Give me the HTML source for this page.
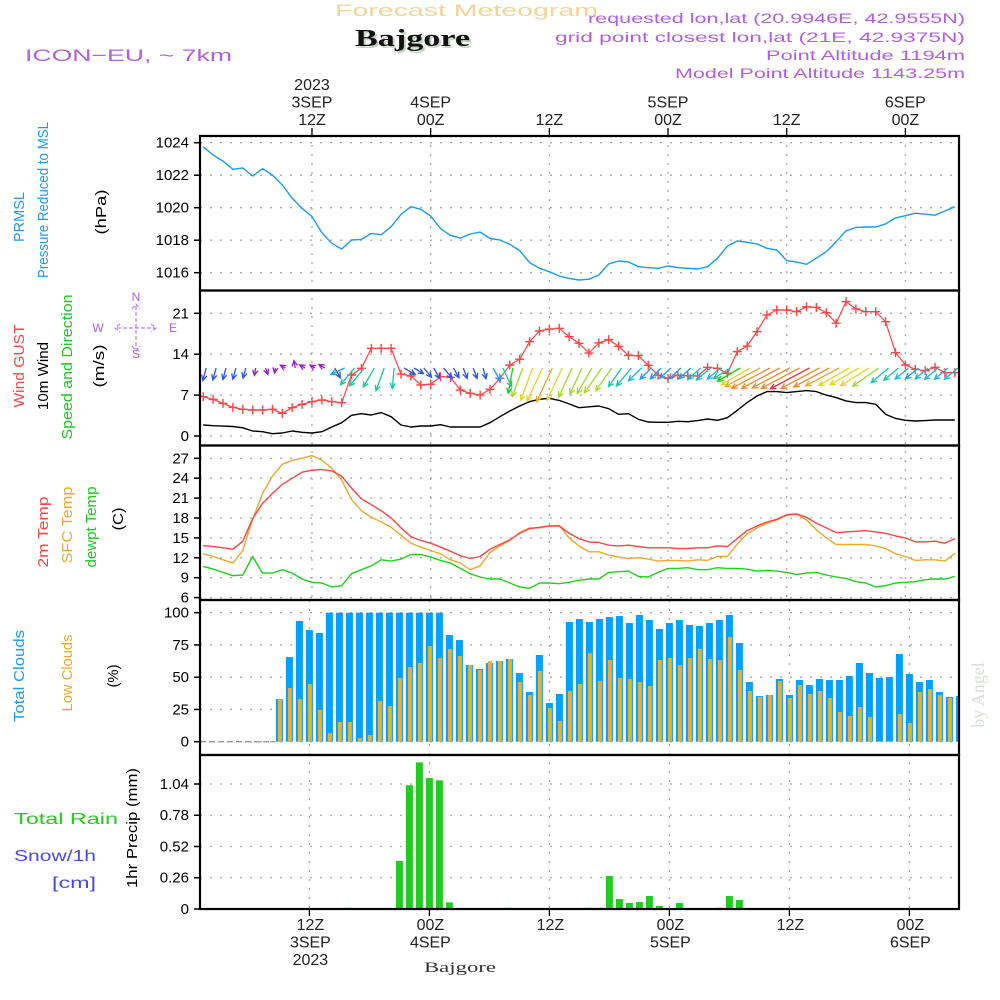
<!DOCTYPE html>
<html><head><meta charset="utf-8">
<style>
html,body{margin:0;padding:0;background:#fff;}
svg{display:block;font-family:"Liberation Sans",sans-serif;}
</style></head>
<body>
<svg id="chart" width="1000" height="1000" viewBox="0 0 1000 1000" xmlns="http://www.w3.org/2000/svg">
<g>
<text x="335" y="16" font-size="17" fill="#f3d49a" textLength="263" lengthAdjust="spacingAndGlyphs">Forecast Meteogram</text>
<text x="357" y="48" font-size="24" font-weight="bold" font-family="Liberation Serif,serif" fill="#c8d4c8" textLength="115" lengthAdjust="spacingAndGlyphs">Bajgore</text>
<text x="355" y="46" font-size="24" font-weight="bold" font-family="Liberation Serif,serif" fill="#111" textLength="115" lengthAdjust="spacingAndGlyphs">Bajgore</text>
<text x="25" y="61" font-size="17" fill="#b060e0" textLength="207" lengthAdjust="spacingAndGlyphs">ICON−EU, ~ 7km</text>
<text x="965" y="23" font-size="14" fill="#b060e0" text-anchor="end" textLength="377" lengthAdjust="spacingAndGlyphs">requested lon,lat (20.9946E, 42.9555N)</text>
<text x="965" y="42" font-size="14" fill="#b060e0" text-anchor="end" textLength="410" lengthAdjust="spacingAndGlyphs">grid point closest lon,lat (21E, 42.9375N)</text>
<text x="965" y="60" font-size="14" fill="#b060e0" text-anchor="end" textLength="199" lengthAdjust="spacingAndGlyphs">Point Altitude 1194m</text>
<text x="965" y="78" font-size="14" fill="#b060e0" text-anchor="end" textLength="290" lengthAdjust="spacingAndGlyphs">Model Point Altitude 1143.25m</text>
</g>
<g id="labels" font-size="15"></g>
<g id="grid"></g>
<g id="marks"></g>
<g id="frame"></g>
<text transform="translate(984,695) rotate(-90)" text-anchor="middle" font-size="18" font-family="Liberation Serif,serif" fill="#d8e0d8">by Angel</text>
<text x="460" y="972" text-anchor="middle" font-size="15" font-family="Liberation Serif,serif" fill="#333" textLength="72" lengthAdjust="spacingAndGlyphs">Bajgore</text>
</svg>
<script>
// ---- data (hours 1..77 from 00Z 3 SEP) ----
const pressure = [1023.75,1023.24,1022.87,1022.36,1022.44,1021.95,1022.40,1022.01,1021.40,1020.58,1019.96,1019.45,1018.46,1017.81,1017.46,1018.01,1018.05,1018.42,1018.34,1018.83,1019.59,1020.06,1019.90,1019.49,1018.71,1018.30,1018.13,1018.38,1018.50,1018.11,1018.01,1017.75,1017.36,1016.62,1016.27,1016.06,1015.8,1015.65,1015.55,1015.6,1015.86,1016.54,1016.72,1016.66,1016.37,1016.31,1016.27,1016.41,1016.31,1016.27,1016.23,1016.37,1016.89,1017.64,1017.95,1017.87,1017.77,1017.50,1017.40,1016.74,1016.66,1016.52,1016.89,1017.29,1017.91,1018.58,1018.79,1018.81,1018.81,1019.0,1019.37,1019.51,1019.66,1019.6,1019.54,1019.8,1020.06];
const windSpeed = [1.88,1.77,1.69,1.63,1.4,0.86,0.74,0.4,0.51,0.86,0.63,0.51,0.74,1.54,2.28,3.54,3.82,3.6,4.0,3.31,1.88,1.54,1.71,1.71,1.94,1.54,1.54,1.54,1.54,2.28,3.31,4.28,5.14,5.88,6.28,6.45,6.1,5.5,4.85,5.0,5.14,4.68,3.71,3.82,2.85,2.4,2.34,2.34,2.51,2.45,2.63,2.91,2.68,3.14,4.4,5.71,6.85,7.6,7.6,7.42,7.6,7.77,7.6,7.0,6.57,6.0,5.71,5.71,5.43,3.71,3.02,2.68,2.57,2.63,2.74,2.74,2.74];
const windGust = [6.73,6.27,5.59,4.9,4.57,4.45,4.45,4.57,3.88,4.85,5.42,5.88,6.17,5.88,5.7,10.44,11.58,15.0,15.0,15.0,10.6,10.27,8.73,8.84,10.15,10.04,7.87,7.3,7.0,7.99,9.87,12.15,13.12,16.14,17.97,18.3,18.43,17.0,15.86,14.2,15.92,16.49,15.35,13.8,13.75,12.1,10.4,9.87,10.4,10.3,10.27,11.75,11.58,10.73,14.44,15.4,17.86,20.7,21.57,21.57,21.28,22.1,22.0,21.1,19.3,23.0,21.74,21.28,21.28,19.57,14.27,12.15,11.41,11.18,11.75,10.84,10.84];
const windDir = [15,15,15,15,15,10,340,10,120,170,120,120,120,330,65,40,40,30,20,5,300,300,320,330,320,330,340,340,345,330,335,10,20,20,25,25,25,25,25,30,35,35,35,40,45,45,45,48,48,48,48,50,50,58,60,60,62,62,62,62,62,62,62,62,62,60,60,58,55,50,50,50,50,50,50,50,50];
const temp2m = [13.83,13.7,13.5,13.3,14.5,17.9,20.2,21.7,23.1,24.0,24.9,25.2,25.3,25.1,24.3,22.5,20.9,20.0,19.1,18.0,16.5,15.2,14.6,14.2,13.6,13.0,12.3,11.9,12.2,13.3,14.0,14.7,15.7,16.4,16.6,16.8,16.8,15.7,14.9,14.4,14.3,13.9,13.8,13.9,13.7,13.5,13.5,13.5,13.4,13.4,13.5,13.5,13.8,13.7,14.9,16.1,16.8,17.4,17.8,18.5,18.6,18.1,17.2,16.5,15.8,15.9,16.0,16.1,15.9,15.7,15.3,15.0,14.4,14.4,14.5,14.2,14.9];
const tempSfc = [12.6,12.2,11.7,11.2,13.1,17.8,21.7,24.3,26.1,26.7,27.0,27.4,26.7,25.5,23.7,20.8,19.1,18.1,17.4,16.6,15.4,14.2,13.6,13.1,12.6,11.7,11.2,10.2,10.8,12.8,13.8,14.6,15.8,16.5,16.5,16.8,16.9,15.0,13.8,12.9,12.9,12.4,12.1,11.9,12.0,11.8,11.5,11.6,11.6,11.5,11.7,11.6,12.2,12.2,14.1,15.6,16.5,17.2,17.7,18.4,18.6,17.7,16.2,15.0,14.0,14.0,14.0,14.0,13.8,13.4,12.6,12.2,11.6,11.7,11.7,11.5,12.7];
const dewpoint = [10.7,10.3,9.8,9.3,9.4,12.2,9.7,9.7,10.2,9.7,8.8,8.3,8.2,7.6,7.8,9.6,10.2,10.8,11.7,11.5,11.8,12.5,12.5,12.1,11.6,11.2,10.4,9.6,9.1,8.8,8.8,8.2,7.6,7.4,8.2,8.2,8.1,8.3,8.6,8.8,8.8,9.8,9.9,10.0,9.2,9.1,9.8,10.4,10.4,10.5,10.2,10.2,10.5,10.4,10.4,10.3,10.0,10.1,10.0,9.8,9.5,9.7,9.8,9.4,9.1,8.9,8.4,8.2,7.6,7.8,8.2,8.3,8.4,8.7,8.8,8.8,9.2];
// clouds/precip hours 9..77
const totalClouds = [33,65.6,93.6,86.6,84.3,100,100,100,100,100,100,100,100,100,100,100,100,82.7,78.8,59.5,56.4,61,62.6,64.1,53.3,38.5,67.2,30,37,92.8,95.1,92.8,95.1,96.6,97.4,92,98.2,94.3,87.4,92,94.3,90.5,89.7,92,94.3,98.2,76.5,46.3,35.4,36.2,48.6,36.2,47.8,43.9,48.6,47.8,47.8,50.9,61,53.3,49.4,50.2,68,52.5,46.3,47.8,38.5,34.7,35.4];
const lowClouds = [33,41.6,33,44.7,24.8,6.7,15.3,15.3,2.9,5.2,31.5,27.7,49.4,57.9,61,74.2,64.9,71.9,66.4,59.5,55.6,62.6,62.6,64.1,46.3,36.2,54.8,26.1,16,39.3,44.7,68.7,47,63.3,49.4,48.6,46.3,43.2,63.3,64.9,59.5,64.9,72,64.1,63.3,81.2,55.6,39.3,34.7,36.2,47,33.9,43.9,37,39.3,33.9,23,19.9,26.9,19.1,0.5,0.5,21.5,14.5,38.5,40.9,36.2,33.9,35.4];
const precip = [0,0,0,0,0,0,0,0.01,0,0,0,0,0.40,1.03,1.22,1.09,1.07,0.055,0,0,0,0,0,0.01,0,0,0,0,0,0,0,0.01,0.01,0.275,0.083,0.05,0.058,0.108,0.025,0,0.05,0,0,0,0.01,0.108,0.075,0,0,0,0,0,0,0,0,0,0,0,0,0,0,0,0,0,0,0,0,0,0];
const pTicks = [1016,1018,1020,1022,1024];
const wTicks = [0,7,14,21];
const tTicks = [6,9,12,15,18,21,24,27];
const cTicks = [0,25,50,75,100];
const rTicks = [0,0.26,0.52,0.78,1.04];
const rTickLabels = ["0","0.26","0.52","0.78","1.04"];
const timeMarks = [12,24,36,48,60,72];
const topTimeLabels = [["2023","3SEP","12Z"],["4SEP","00Z"],["12Z"],["5SEP","00Z"],["12Z"],["6SEP","00Z"]];
const botTimeLabels = [["12Z","3SEP","2023"],["00Z","4SEP"],["12Z"],["00Z","5SEP"],["12Z"],["00Z","6SEP"]];

// ---- scales ----
const X0=200, X1=959;
const xT = h => 193.3 + 9.89*h;      // upper panels
const xB = h => 189.4 + 10*h;        // lower panels
const yP = v => 142.7 + (1024-v)*16.25;
const yW = v => 436 - v*5.843;
const yT = v => 458.3 + (27-v)*6.633;
const yC = v => 741.7 - v*1.29;
const yR = v => 909 - v*120.2;
const panels = [[136,290.5],[290.5,445.5],[445.5,600],[600,755],[755,909]];

const NS="http://www.w3.org/2000/svg";
function mk(tag, attrs, parent){const e=document.createElementNS(NS,tag);for(const k in attrs)e.setAttribute(k,attrs[k]);parent.appendChild(e);return e;}
const G=document.getElementById('grid'), M=document.getElementById('marks'), F=document.getElementById('frame'), L=document.getElementById('labels');

function hgrid(vals, yf, labels, name){
  vals.forEach((v,i)=>{
    const y=yf(v);
    const ln=mk('line',{x1:X0,x2:X1,y1:y,y2:y,stroke:'#aaa','stroke-dasharray':'2,8','stroke-width':1.3},G);
    
    
    const tk=mk('line',{x1:194,x2:X0,y1:y,y2:y,stroke:'#000','stroke-width':1.5},F);
    
    
    const t=mk('text',{x:189,y:y+5,'text-anchor':'end','font-size':15,fill:'#000'},F);
    t.textContent = labels ? labels[i] : String(v);
    
    
  });
}
hgrid(pTicks,yP,null,'pressure-y');
hgrid(wTicks,yW,null,'wind-y');
hgrid(tTicks,yT,null,'temp-y');
hgrid(cTicks,yC,null,'cloud-y');
hgrid(rTicks,yR,rTickLabels,'precip-y');
timeMarks.forEach(h=>{
  [[panels[0][0],panels[2][1],xT],[panels[3][0],panels[4][1],xB]].forEach(([a,b,xf])=>{
    const x=xf(h);
    const ln=mk('line',{x1:x,x2:x,y1:a,y2:b,stroke:'#aaa','stroke-dasharray':'2,7','stroke-width':1.3},G);
    
    
  });
  const t1=mk('line',{x1:xT(h),x2:xT(h),y1:128,y2:136,stroke:'#000','stroke-width':1.3},F);
  
  
  const t2=mk('line',{x1:xB(h),x2:xB(h),y1:909,y2:916,stroke:'#000','stroke-width':1.3},F);
  
  
});
timeMarks.forEach((h,i)=>{
  const lines=topTimeLabels[i];
  lines.forEach((s,j)=>{
    const t=mk('text',{x:xT(h),y:127-(lines.length-1-j)*17.5-2,'text-anchor':'middle','font-size':16,fill:'#222'},F);
    t.textContent=s;
    
    
  });
  botTimeLabels[i].forEach((s,j)=>{
    const t=mk('text',{x:xB(h)+1,y:930+j*17.5,'text-anchor':'middle','font-size':16,fill:'#222'},F);
    t.textContent=s;
    
    
  });
});

panels.forEach(([a,b],i)=>{
  const r=mk('rect',{x:X0,y:a,width:X1-X0,height:b-a,fill:'none',stroke:'#000','stroke-width':2.2},F);
  
  
});

function poly(arr, xf, yf, color, name, w){
  const pts=arr.map((v,i)=>xf(i+1).toFixed(1)+','+yf(v).toFixed(1)).join(' ');
  const p=mk('polyline',{points:pts,fill:'none',stroke:color,'stroke-width':w||1.4,'stroke-linejoin':'round'},M);
  
  
}
poly(pressure,xT,yP,'#1a9cf5','pressure-line');
poly(windSpeed,xT,yW,'#000','wind-speed-line');
poly(windGust,xT,yW,'#ff4545','wind-gust-line',1.2);
windGust.forEach((v,i)=>{
  const x=xT(i+1), y=yW(v);
  const c=mk('path',{d:`M${x-4.5},${y}H${x+4.5}M${x},${y-4.5}V${y+4.5}`,stroke:'#ff4545','stroke-width':1.4},M);
  
  
});
function spdColor(s){
  if(s<1.0) return '#9a1ed0';
  if(s<2.0) return '#2a55f0';
  if(s<2.6) return '#1a9cf0';
  if(s<3.0) return '#18b8e0';
  if(s<4.2) return '#18c8a0';
  if(s<4.6) return '#18cc18';
  if(s<5.6) return '#a0dc28';
  if(s<6.4) return '#e8d428';
  if(s<7.0) return '#e8a830';
  if(s<7.7) return '#f08a30';
  return '#ee3535';
}
windSpeed.forEach((s,i)=>{
  const d=windDir[i]*Math.PI/180;
  const dx=-Math.sin(d), dy=Math.cos(d);
  const Lh=3+s*5.3;
  const x0=xT(i+1)+3, y0=368;
  const x1=x0+dx*Lh, y1=y0+dy*Lh;
  const a=Math.atan2(-dy,-dx), hl=6;
  const hx1=x1+hl*Math.cos(a+0.45), hy1=y1+hl*Math.sin(a+0.45);
  const hx2=x1+hl*Math.cos(a-0.45), hy2=y1+hl*Math.sin(a-0.45);
  const col=spdColor(s);
  const p=mk('path',{d:`M${x0},${y0}L${x1},${y1}M${hx1},${hy1}L${x1},${y1}L${hx2},${hy2}`,stroke:col,'stroke-width':1.3,fill:'none'},M);
  
  
});
poly(tempSfc,xT,yT,'#f0a830','sfc-temp-line');
poly(temp2m,xT,yT,'#ff4545','temp-2m-line');
poly(dewpoint,xT,yT,'#1ed21e','dewpoint-line');

const zl=mk('line',{x1:X0,x2:xB(9)-4,y1:yC(0),y2:yC(0),stroke:'#999','stroke-dasharray':'6,3','stroke-width':1.3},M);


totalClouds.forEach((v,i)=>{
  const x=xB(i+9);
  const w=Math.min(7, X1-(x-3.5));
  const r=mk('rect',{x:x-3.5,y:yC(v),width:w,height:yC(0)-yC(v),fill:'#00a0ff'},M);
  
  
});
lowClouds.forEach((v,i)=>{
  const x=xB(i+9);
  const w=Math.min(4, X1-(x-1.5));
  const r=mk('rect',{x:x-1.5,y:yC(v),width:w,height:yC(0)-yC(v),fill:'#e8b030'},M);
  
  
});
precip.forEach((v,i)=>{
  if(v<=0) return;
  const x=xB(i+9);
  const r=mk('rect',{x:x-3.5,y:yR(v),width:7,height:yR(0)-yR(v),fill:'#20cc20'},M);
  
  
});

function vlabel(txt,x,cy,len,color,name){
  const t=mk('text',{transform:`translate(${x},${cy}) rotate(-90)`,'text-anchor':'middle','font-size':15,fill:color,textLength:len,lengthAdjust:'spacingAndGlyphs'},L);
  t.textContent=txt;
  
  
}
vlabel('PRMSL',24,217,50,'#1a9cf5','pressure-label');
vlabel('Pressure Reduced to MSL',48,200,156,'#1a9cf5','pressure-label-long');
vlabel('(hPa)',106,212,45,'#000','pressure-unit');
vlabel('Wind GUST',24,366,83,'#ff4545','gust-label');
vlabel('10m Wind',48,376,68,'#000','wind-label');
vlabel('Speed and Direction',72,367,145,'#1ec81e','direction-label');
vlabel('(m/s)',104,366,43,'#000','wind-unit');
vlabel('2m Temp',48,532,71,'#ff4545','temp-2m-label');
vlabel('SFC Temp',72,525,77,'#f0a830','sfc-temp-label');
vlabel('dewpt Temp',96,527,81,'#1ec81e','dewpoint-label');
vlabel('(C)',123,519,23,'#000','temp-unit');
vlabel('Total Clouds',24,676,92,'#1a9cf5','total-cloud-label');
vlabel('Low Clouds',72,673,77,'#f0a830','low-cloud-label');
vlabel('(%)',118,676,23,'#000','cloud-unit');
vlabel('1hr Precip (mm)',137,828,120,'#000','precip-unit');
[['Total   Rain',14,824,104,'#20cc20','rain-legend'],['Snow/1h',14,861,82,'#4848f0','snow-legend'],['[cm]',52,888,44,'#4848f0','snow-unit']].forEach(a=>{
  const t=mk('text',{x:a[1],y:a[2],'font-size':16,fill:a[4],textLength:a[3],lengthAdjust:'spacingAndGlyphs'},L);
  t.textContent=a[0];
  
  
});
const cc='#b060e0';
[['N',136,301],['S',136,358],['W',98,332],['E',173,332]].forEach(a=>{
  const t=mk('text',{x:a[1],y:a[2],'text-anchor':'middle','font-size':12,fill:cc},L);
  t.textContent=a[0];
  
  
});
const cp=mk('path',{d:'M117,328H155M136,306V349M120,324L115,328L120,332M151,324L156,328L151,332M132,309L136,304L140,309M132,346L136,351L140,346',stroke:cc,'stroke-width':1,'stroke-dasharray':'4,2',fill:'none'},L);


</script>
</body></html>
